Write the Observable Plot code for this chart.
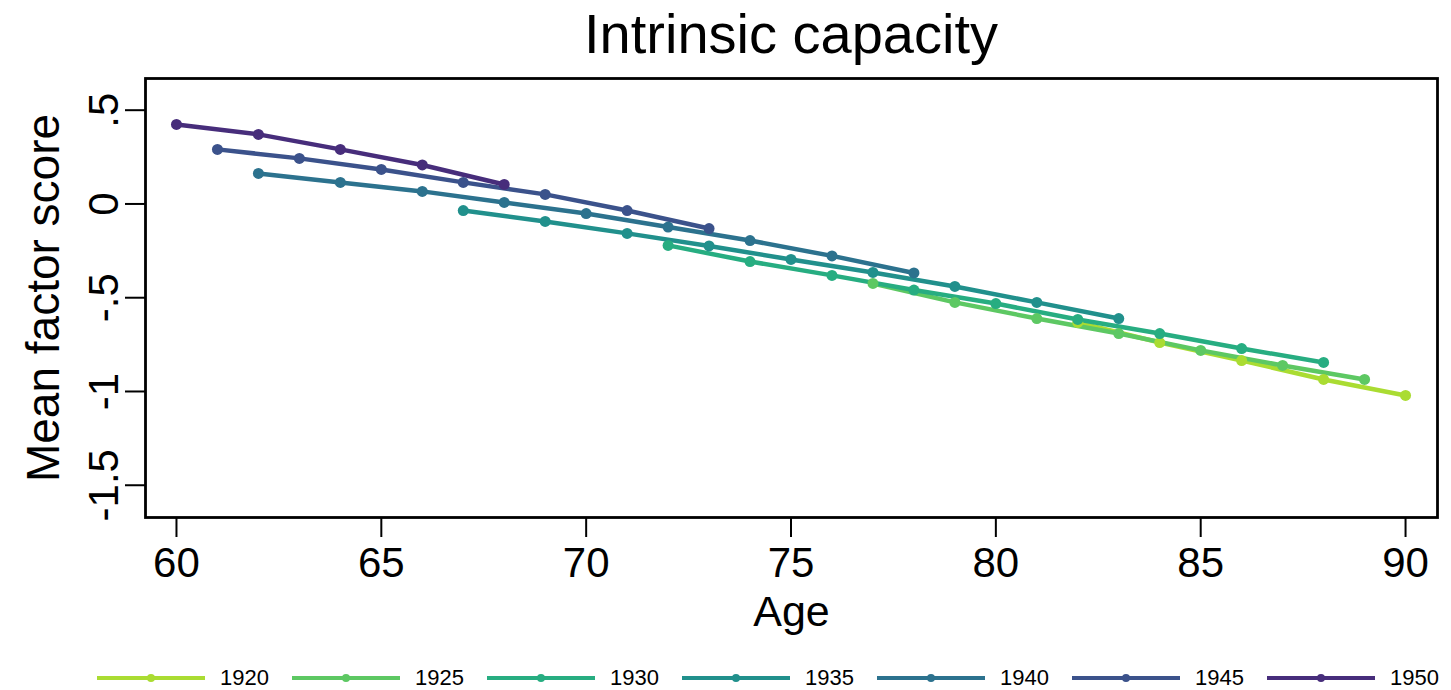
<!DOCTYPE html>
<html>
<head>
<meta charset="utf-8">
<script src="https://cdn.jsdelivr.net/npm/d3@7"></script>
<script src="https://cdn.jsdelivr.net/npm/@observablehq/plot@0.6"></script>
<style>
  html, body { margin: 0; padding: 0; background: #fff; }
  body { width: 1451px; height: 690px; overflow: hidden; position: relative;
         font-family: "Liberation Sans", Arial, Helvetica, sans-serif; color: #000; }
  #title { position: absolute; left: 145px; width: 1292px; top: 2px; text-align: center;
           font-size: 56px; line-height: 64px; }
  #chart { position: absolute; left: 0; top: 70px; }
  #legend { position: absolute; left: 97px; top: 667px; display: flex; align-items: center; }
  .item { display: flex; align-items: center; width: 195px; }
  .item span { font-size: 22px; margin-left: 15px; line-height: 22px; }
</style>
</head>
<body>
<div id="title">Intrinsic capacity</div>
<div id="chart"></div>
<div id="legend"></div>
<script>
// Birth cohorts and viridis colours
const cohorts = ["1920", "1925", "1930", "1935", "1940", "1945", "1950"];
const colors  = ["#AADC32", "#5DC863", "#27AD81", "#21908C", "#2C728E", "#3B528B", "#472D7B"];

// Ages observed for each cohort
const ages1920 = [82, 84, 86, 88, 90];
const ages1925 = [77, 79, 81, 83, 85, 87, 89];
const ages1930 = [72, 74, 76, 78, 80, 82, 84, 86, 88];
const ages1935 = [67, 69, 71, 73, 75, 77, 79, 81, 83];
const ages1940 = [62, 64, 66, 68, 70, 72, 74, 76, 78];
const ages1945 = [61, 63, 65, 67, 69, 71, 73];
const ages1950 = [60, 62, 64, 66, 68];

// Mean factor scores for each cohort
const score1920 = [-0.632, -0.739, -0.835, -0.936, -1.021];
const score1925 = [-0.424, -0.525, -0.611, -0.691, -0.781, -0.861, -0.936];
const score1930 = [-0.221, -0.307, -0.381, -0.459, -0.531, -0.616, -0.691, -0.771, -0.845];
const score1935 = [-0.035, -0.093, -0.157, -0.224, -0.296, -0.365, -0.440, -0.525, -0.611];
const score1940 = [0.163, 0.115, 0.067, 0.008, -0.051, -0.123, -0.195, -0.277, -0.368];
const score1945 = [0.291, 0.243, 0.184, 0.115, 0.051, -0.035, -0.131];
const score1950 = [0.424, 0.371, 0.291, 0.208, 0.104];

// Axis ticks
const xTicks = [60, 65, 70, 75, 80, 85, 90];
const yTicks = [0.5, 0, -0.5, -1, -1.5];
const yTickLabels = [".5", "0", "-.5", "-1", "-1.5"];

const agesBy = [ages1920, ages1925, ages1930, ages1935, ages1940, ages1945, ages1950];
const scoresBy = [score1920, score1925, score1930, score1935, score1940, score1945, score1950];
const data = cohorts.flatMap((c, i) => agesBy[i].map((a, j) => ({cohort: c, age: a, score: scoresBy[i][j]})));

const chart = Plot.plot({
  width: 1451,
  height: 570,
  marginTop: 8,
  marginBottom: 123,
  marginLeft: 145,
  marginRight: 14,
  x: {domain: [59.244, 90.78]},
  y: {domain: [-1.672, 0.669]},
  color: {domain: cohorts, range: colors},
  style: {fontFamily: '"Liberation Sans", Arial, Helvetica, sans-serif', fontSize: "42px", color: "#000", background: "#fff", overflow: "visible"},
  marks: [
    Plot.line(data, {x: "age", y: "score", z: "cohort", stroke: "cohort", strokeWidth: 4.5}),
    Plot.dot(data, {x: "age", y: "score", fill: "cohort", r: 5.5}),
    Plot.frame({stroke: "#000", strokeWidth: 2.8}),
    Plot.axisX({ticks: xTicks, tickSize: 20, tickPadding: 10, label: null, strokeWidth: 2, fontSize: 42}),
    Plot.axisY({ticks: yTicks, tickFormat: d => yTickLabels[yTicks.indexOf(d)], tickRotate: -90,
                tickSize: 20, tickPadding: 8, label: null, strokeWidth: 2, fontSize: 42}),
    Plot.text(["Age"], {frameAnchor: "bottom", dy: 108, fontSize: 43}),
    Plot.text(["Mean factor score"], {frameAnchor: "left", textAnchor: "middle", rotate: -90, dx: -101, fontSize: 46})
  ]
});
document.getElementById("chart").appendChild(chart);

// Legend
const legend = d3.select("#legend");
cohorts.forEach((c, i) => {
  const item = legend.append("div").attr("class", "item");
  const svg = item.append("svg").attr("width", 108).attr("height", 14);
  svg.append("line").attr("x1", 0).attr("x2", 108).attr("y1", 7).attr("y2", 7)
     .attr("stroke", colors[i]).attr("stroke-width", 4);
  svg.append("circle").attr("cx", 54).attr("cy", 7).attr("r", 4).attr("fill", colors[i]);
  item.append("span").text(c);
});
</script>
</body>
</html>
